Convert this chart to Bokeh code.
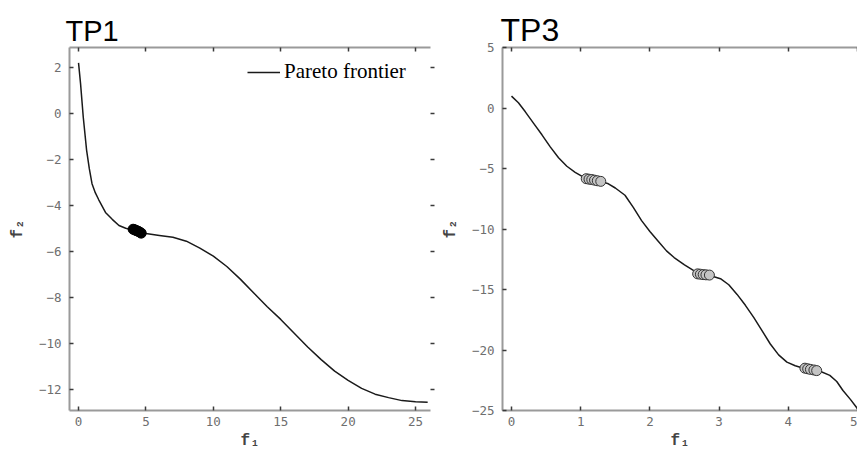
from bokeh.plotting import figure
from bokeh.models import LinearAxis, FixedTicker, Legend, LegendItem, Range1d
from bokeh.layouts import row
from bokeh.embed import file_html
from bokeh.resources import INLINE

# ---------------- data ----------------
tp1_f1 = [0.0, 0.15, 0.35, 0.6, 0.8, 1.0, 1.25, 1.5, 2.0, 2.5, 3.0, 3.5, 4.0, 4.5, 5.0,
          6.0, 7.0, 8.0, 9.0, 10.0, 11.0, 12.0, 13.0, 14.0, 15.0, 16.0, 17.0, 18.0,
          19.0, 20.0, 21.0, 22.0, 23.0, 24.0, 25.0, 25.9]
tp1_f2 = [2.2, 1.3, -0.15, -1.6, -2.4, -3.05, -3.45, -3.75, -4.3, -4.6, -4.87, -4.99,
          -5.06, -5.13, -5.22, -5.3, -5.38, -5.55, -5.85, -6.2, -6.65, -7.2, -7.8, -8.4,
          -8.95, -9.55, -10.15, -10.7, -11.2, -11.6, -11.95, -12.2, -12.35, -12.48,
          -12.53, -12.55]
tp1_pts_f1 = [4.05, 4.15, 4.25, 4.35, 4.45, 4.55, 4.65]
tp1_pts_f2 = [-5.03, -5.05, -5.08, -5.1, -5.13, -5.16, -5.2]

tp3_f1 = [0.0, 0.1, 0.2, 0.32, 0.44, 0.56, 0.68, 0.8, 0.92, 1.04, 1.16, 1.29, 1.4, 1.5,
          1.64, 1.76, 1.88, 2.0, 2.12, 2.24, 2.35, 2.5, 2.64, 2.76, 2.88, 3.02, 3.14,
          3.26, 3.38, 3.5, 3.62, 3.74, 3.86, 3.98, 4.1, 4.22, 4.34, 4.46, 4.6, 4.7,
          4.79, 4.9, 5.0]
tp3_f2 = [1.0, 0.45, -0.3, -1.25, -2.2, -3.2, -4.1, -4.8, -5.3, -5.7, -5.9, -6.05, -6.25,
          -6.6, -7.2, -8.2, -9.3, -10.2, -11.0, -11.8, -12.35, -12.95, -13.45, -13.7,
          -13.85, -14.1, -14.6, -15.4, -16.3, -17.3, -18.4, -19.5, -20.4, -21.0, -21.3,
          -21.5, -21.6, -21.75, -22.1, -22.6, -23.35, -24.1, -24.85]
tp3_pts_f1 = [1.08, 1.12, 1.16, 1.2, 1.24, 1.29,
              2.69, 2.73, 2.77, 2.81, 2.86,
              4.24, 4.28, 4.32, 4.37, 4.41]
tp3_pts_f2 = [-5.83, -5.87, -5.9, -5.95, -6.0, -6.05,
              -13.7, -13.73, -13.76, -13.78, -13.8,
              -21.5, -21.55, -21.6, -21.65, -21.7]

tp1_xticks = [0, 5, 10, 15, 20, 25]
tp1_yticks = [-12, -10, -8, -6, -4, -2, 0, 2]
tp3_xticks = [0, 1, 2, 3, 4, 5]
tp3_yticks = [-25, -20, -15, -10, -5, 0, 5]

titles = ["TP1", "TP3"]
legend_label = "Pareto frontier"
x_label = "f\u2081"
y_label = "f\u2082"

SPINE = "#9a9a9a"
TICK = "#3a3a3a"
TLAB = "#6e6e6e"


def style_axis(ax, ticks, labels=True):
    ax.ticker = FixedTicker(ticks=ticks)
    ax.axis_line_color = SPINE
    ax.axis_line_width = 2
    ax.major_tick_line_color = TICK
    ax.major_tick_line_width = 1.5
    ax.major_tick_in = 4
    ax.major_tick_out = 0
    ax.minor_tick_line_color = None
    ax.major_label_text_font = "DejaVu Sans Mono"
    ax.axis_label_text_font = "Liberation Mono"
    ax.axis_label_text_font_size = "16px"
    ax.axis_label_text_font_style = "bold"
    ax.axis_label_text_color = "#444"
    if labels:
        ax.major_label_text_font_size = "12.5px"
        ax.major_label_text_color = TLAB
    else:
        ax.major_label_text_font_size = "0px"
        ax.major_label_text_color = None
        ax.major_label_text_alpha = 0
        ax.major_label_standoff = 0


def make_fig(title, width, xr, yr, xt, yt, mb_left, mb_right,
             title_size, title_offset, title_valign, right_axis):
    p = figure(width=width, height=452, output_backend="svg", toolbar_location=None,
               x_range=Range1d(*xr), y_range=Range1d(*yr),
               min_border_left=mb_left, min_border_right=mb_right,
               min_border_top=47, min_border_bottom=42)
    p.title.text = title
    p.title.text_font = "Liberation Sans"
    p.title.text_font_size = title_size
    p.title.text_font_style = "normal"
    p.title.text_color = "black"
    p.title.align = "left"
    p.title.vertical_align = title_valign
    p.title.offset = title_offset
    p.title.standoff = 0
    p.grid.visible = False
    p.outline_line_color = None
    p.background_fill_color = "white"
    p.border_fill_color = "white"

    style_axis(p.xaxis[0], xt)
    style_axis(p.yaxis[0], yt)
    p.xaxis[0].axis_label = x_label
    p.yaxis[0].axis_label = y_label
    p.xaxis[0].major_label_standoff = 6
    p.xaxis[0].axis_label_standoff = 3
    p.yaxis[0].major_label_standoff = 8
    p.yaxis[0].axis_label_standoff = 9

    top = LinearAxis()
    style_axis(top, xt, labels=False)
    p.add_layout(top, "above")
    if right_axis:
        r = LinearAxis()
        style_axis(r, yt, labels=False)
        r.axis_line_alpha = 0
        r.major_tick_in = 0
        r.major_tick_out = 4
        p.add_layout(r, "right")
    return p


p1 = make_fig(titles[0], 438, (-0.67, 26.11), (-12.91, 2.87), tp1_xticks, tp1_yticks,
              69, 8, "29px", -4, "middle", True)
line1 = p1.line(tp1_f1, tp1_f2, line_color="#1a1a1a", line_width=1.5)
p1.scatter(tp1_pts_f1, tp1_pts_f2, size=10, fill_color="black", line_color="black")
leg = Legend(items=[LegendItem(label=legend_label, renderers=[line1])],
             location=(178, 326), border_line_alpha=0, background_fill_alpha=0,
             padding=0, margin=0, glyph_width=33, label_standoff=4,
             label_text_font="Liberation Serif", label_text_font_size="21px",
             label_text_color="black")
p1.add_layout(leg)

p2 = make_fig(titles[1], 419, (-0.13, 5.0), (-25.0, 5.02), tp3_xticks, tp3_yticks,
              62, 0, "32px", -2, "bottom", False)
p2.line(tp3_f1, tp3_f2, line_color="#1a1a1a", line_width=1.5)
p2.scatter(tp3_pts_f1, tp3_pts_f2, size=10, fill_color="#c4c4c4", line_color="#333333",
           line_width=1)

layout = row(p1, p2)
open("out.html", "w").write(file_html(layout, INLINE))
